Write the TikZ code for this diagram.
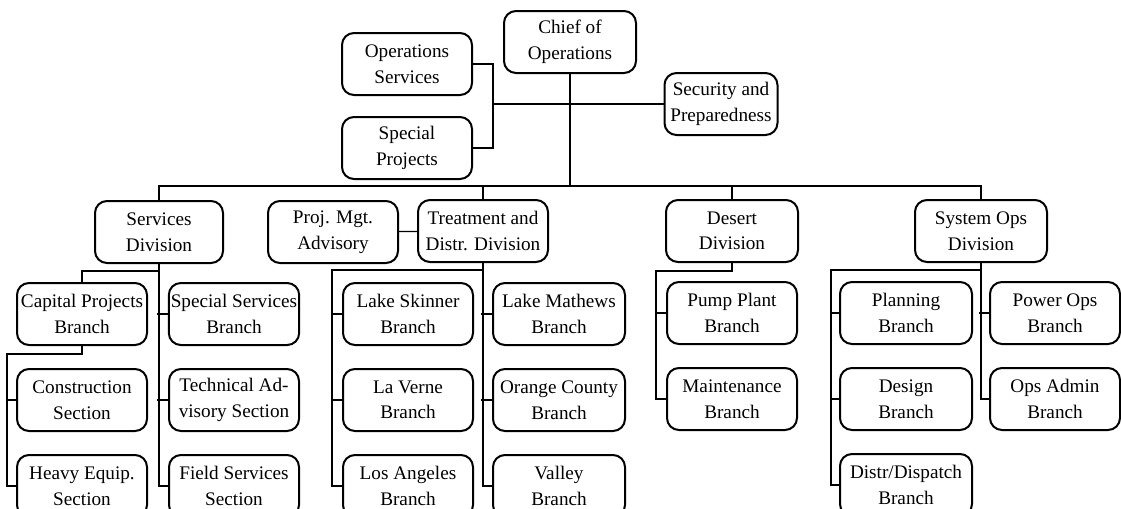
\documentclass[tikz,border=0pt]{standalone}
\usepackage{fontspec}
\setmainfont{Liberation Serif}
\usepackage{tikz}
\usetikzlibrary{positioning,calc}
\tikzset{
	node distance = 11pt and 11pt,
	unit/.style = {rectangle, draw, rounded corners=6pt, line width=1pt,
	 minimum width=65pt, minimum height=31pt, inner xsep=1pt, inner ysep=1pt,
	 align=center, font=\fontsize{9.6}{12.8}\selectfont},
	link/.style = {line width=0.6pt},
}
\begin{document}
\begin{tikzpicture}[x=0.5pt, y=-0.5pt]
	\useasboundingbox (0,0) rectangle (1121,509);
	% top level
	\node (chief) [unit, minimum width=66pt] at (570,42) {Chief of\\Operations};
	\node (opsserv) [unit] at (407,64) {Operations\\Services};
	\node (specproj) [unit] at (407,148) {Special\\Projects};
	\node (security) [unit, minimum width=56.5pt] at (721,104) {Security and\\Preparedness};
	% divisions
	\node (services) [unit, minimum width=64pt] at (159,232) {Services\\Division};
	\node (projmgt) [unit] at (333,232) {Proj. Mgt.\\Advisory};
	\node (treat) [unit] at (483,231) {Treatment and\\Distr. Division};
	\node (desert) [unit, minimum width=66pt] at (732,231) {Desert\\Division};
	\node (sysops) [unit, minimum width=66pt] at (981,231) {System Ops\\Division};
	% branches and sections
	\node (capital) [unit] at (82,314) {Capital Projects\\Branch};
	\node (construction) [unit, below = of capital] {Construction\\Section};
	\node (heavy) [unit, below = of construction] {Heavy Equip.\\Section};
	\node (specserv) [unit] at (234,314) {Special Services\\Branch};
	\node (technical) [unit, below = of specserv] {Technical Ad-\\visory Section};
	\node (field) [unit, below = of technical] {Field Services\\Section};
	\node (skinner) [unit] at (408,314) {Lake Skinner\\Branch};
	\node (laverne) [unit, below = of skinner] {La Verne\\Branch};
	\node (losangeles) [unit, below = of laverne] {Los Angeles\\Branch};
	\node (mathews) [unit, minimum width=66pt] at (559,314) {Lake Mathews\\Branch};
	\node (orange) [unit, minimum width=66pt, below = of mathews] {Orange County\\Branch};
	\node (valley) [unit, minimum width=66pt, below = of orange] {Valley\\Branch};
	\node (pump) [unit] at (732,313) {Pump Plant\\Branch};
	\node (maint) [unit, below = of pump] {Maintenance\\Branch};
	\node (planning) [unit, minimum width=66pt] at (906,313) {Planning\\Branch};
	\node (design) [unit, minimum width=66pt, below = of planning] {Design\\Branch};
	\node (distr) [unit, minimum width=66pt, below = of design] {Distr/Dispatch\\Branch};
	\node (powerops) [unit] at (1055,313) {Power Ops\\Branch};
	\node (opsadmin) [unit, below = of powerops] {Ops Admin\\Branch};
	% connectors
	\coordinate (bus) at (570,186);
	\coordinate (staff) at (493,104);
	\draw[link] (chief) -- (bus);
	\draw[link] (services.north) |- (bus) -| (sysops.north);
	\draw[link] (treat.north) -- (treat.north |- bus);
	\draw[link] (desert.north) -- (desert.north |- bus);
	\draw[link] (opsserv.east) -| (staff) |- (specproj.east);
	\draw[link] (staff) -- (staff -| security.west);
	\draw[link] (projmgt) -- (treat);
	% services division
	\draw[link] (services.south) -- ++(0,7) -| (capital.north);
	\draw[link] (services.south) |- (field.west);
	\foreach \n in {specserv, technical}
		\draw[link] (\n.west) -- ++(-11,0);
	\draw[link] (capital.south) -- ++(0,8) -| ([xshift=-4.5pt]heavy.west) -- (heavy.west);
	\draw[link] (construction.west) -- ++(-9,0);
	% treatment and distr. division
	\draw[link] (treat.south) -- ++(0,7) -| ([xshift=-5pt]losangeles.west) -- (losangeles.west);
	\foreach \n in {skinner, laverne}
		\draw[link] (\n.west) -- ++(-10,0);
	\draw[link] (treat.south) |- (valley.west);
	\foreach \n in {mathews, orange}
		\draw[link] (\n.west) -- ++(-11,0);
	% desert division
	\draw[link] (desert.south) -- ++(0,8) -| ([xshift=-5pt]maint.west) -- (maint.west);
	\draw[link] (pump.west) -- ++(-10,0);
	% system ops division
	\draw[link] (sysops.south) -- ++(0,7) -| ([xshift=-4pt]distr.west) -- (distr.west);
	\foreach \n in {planning, design}
		\draw[link] (\n.west) -- ++(-8,0);
	\draw[link] (sysops.south) |- (opsadmin.west);
	\draw[link] (powerops.west) -- ++(-10,0);
\end{tikzpicture}
\end{document}
